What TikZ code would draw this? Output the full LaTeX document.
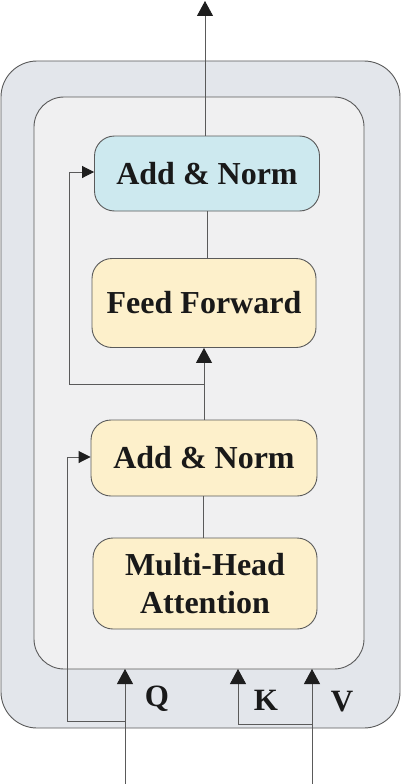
\documentclass[tikz,border=0pt]{standalone}
\usepackage{fontspec}
\setmainfont{Liberation Serif}
\usetikzlibrary{arrows.meta}
\definecolor{outerfill}{HTML}{E3E6EB}
\definecolor{innerfill}{HTML}{F0F0F1}
\definecolor{yel}{HTML}{FDF0CB}
\definecolor{cyanbox}{HTML}{CDE9EF}
\definecolor{ln}{HTML}{5A5A5A}
\definecolor{tip}{HTML}{1E1E1E}
\begin{document}
\begin{tikzpicture}[x=1pt,y=-1pt,
  blk/.style={draw=ln, line width=0.9pt, rounded corners=20pt, minimum width=225pt, inner sep=0pt,
    font=\fontsize{32}{38}\selectfont\bfseries, text=black!90, align=center},
  conn/.style={draw=ln, line width=0.9pt},
  bigarr/.style={-{Triangle[length=15pt,width=16pt,color=tip]}},
  smallarr/.style={-{Triangle[length=12pt,width=12pt,color=tip]}},
  lbl/.style={font=\fontsize{31}{36}\selectfont\bfseries, text=black!90}]
\useasboundingbox (0,0) rectangle (401,784);
\draw[ln, line width=0.9pt, fill=outerfill, rounded corners=36pt] (1,61) rectangle (400,728);
\draw[ln, line width=0.9pt, fill=innerfill, rounded corners=30pt] (34,97) rectangle (364,669);
\node[blk, fill=cyanbox, minimum height=75pt] (an1) at (207,173.5) {Add \& Norm};
\node[blk, fill=yel, minimum height=89pt, minimum width=224pt] (ff) at (204,303) {Feed Forward};
\node[blk, fill=yel, minimum height=76pt, minimum width=226pt] (an2) at (204,458) {Add \& Norm};
\node[blk, fill=yel, minimum height=91pt, minimum width=224pt] (mha) at (205,583.5) {Multi-Head\\Attention};
\coordinate (top) at (205,1);
\coordinate (qb) at (125,784);
\coordinate (vb) at (312,784);
\coordinate (qt) at (125,669);
\coordinate (kt) at (238,669);
\coordinate (vt) at (312,669);
\coordinate (qj) at (125,721);
\coordinate (kj) at (238,724);
\coordinate (vj) at (312,724);
\coordinate (r1) at (204,384);
\draw[conn] (an1.south -| 207,0) -- (ff.north -| 207,0);
\draw[conn] (mha.north -| 203,0) -- (an2.south -| 203,0);
\draw[conn, bigarr] (an1.north -| top) -- (top);
\draw[conn, bigarr] (an2.north -| r1) -- (ff.south -| r1);
\draw[conn, smallarr] (r1) -| (69,172) -- (an1.west |- 0,172);
\draw[conn, bigarr] (qb) -- (qt);
\draw[conn, bigarr] (vb) -- (vt);
\draw[conn, bigarr] (vj) -- (kj) -- (kt);
\draw[conn, smallarr] (qj) -| (67,457) -- (an2.west |- 0,457);
\node[lbl] (q) at (157,699) {Q};
\node[lbl] (k) at (266,700) {K};
\node[lbl] (v) at (342,702) {V};
\end{tikzpicture}
\end{document}
